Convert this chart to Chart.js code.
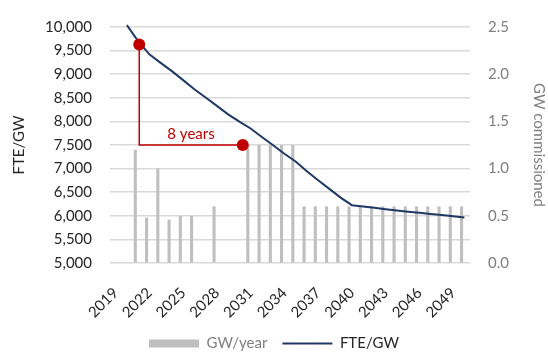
<!DOCTYPE html>
<html>
<head>
<meta charset="utf-8">
<script src="https://cdn.jsdelivr.net/npm/chart.js@4/dist/chart.umd.min.js"></script>
<style>
  html, body { margin: 0; padding: 0; background: #ffffff; }
  #wrap { width: 548px; height: 358px; }
</style>
</head>
<body>
<div id="wrap"><canvas id="c" width="548" height="358"></canvas></div>
<script>
// Years on the category axis
const years = [];
for (let y = 2019; y <= 2050; y++) years.push(String(y));

// New capacity commissioned each year (GW)
const gwPerYear = [
  null, null, 1.2, 0.48, 1.0, 0.46, 0.5, 0.5, null, 0.6, null, null,
  1.25, 1.25, 1.25, 1.25, 1.25,
  0.6, 0.6, 0.6, 0.6, 0.6, 0.6, 0.6, 0.6, 0.6, 0.6, 0.6, 0.6, 0.6, 0.6, 0.6
];

// Jobs intensity (full-time equivalents per GW)
const ftePerGw = [
  null, 10040, 9700, 9420, 9240, 9065, 8875, 8680, 8505, 8330, 8150, 7995,
  7850, 7670, 7495, 7315, 7150, 6945, 6755, 6570, 6385, 6225,
  6195, 6170, 6140, 6110, 6085, 6063, 6040, 6017, 5990, 5965
];

// "8 years" bracket: start point, corner, end point (category index, FTE/GW)
const bracketX = [2.1, 2.1, 11.3];
const bracketY = [9630, 7500, 7500];
const bracketLabel = '8 years';

// Left and right axis ranges
const leftMin = 5000, leftMax = 10000, leftStep = 500;
const rightMin = 0, rightMax = 2.5, rightStep = 0.5;

Chart.defaults.font.family = 'Lato, "Open Sans", sans-serif';
Chart.defaults.font.size = 15;
Chart.defaults.color = '#262626';

const bracketText = {
  id: 'bracketText',
  afterDatasetsDraw(chart) {
    const xs = chart.scales.xa, ys = chart.scales.y;
    const ctx = chart.ctx;
    const x = xs.getPixelForValue((bracketX[1] + bracketX[2]) / 2);
    const y = ys.getPixelForValue(bracketY[1]);
    ctx.save();
    ctx.fillStyle = '#C00000';
    ctx.font = '15px Lato, "Open Sans", sans-serif';
    ctx.textAlign = 'center';
    ctx.textBaseline = 'alphabetic';
    ctx.fillText(bracketLabel, x, y - 6);
    ctx.restore();
  }
};

new Chart(document.getElementById('c'), {
  data: {
    labels: years,
    datasets: [
      {
        type: 'bar',
        label: 'GW/year',
        data: gwPerYear,
        yAxisID: 'y1',
        xAxisID: 'x',
        backgroundColor: '#BFBFBF',
        borderWidth: 0,
        barPercentage: 0.55,
        categoryPercentage: 1.0,
        order: 2
      },
      {
        type: 'line',
        label: 'FTE/GW',
        data: ftePerGw,
        yAxisID: 'y',
        xAxisID: 'x',
        borderColor: '#1F3864',
        backgroundColor: '#1F3864',
        borderWidth: 2,
        pointRadius: 0,
        tension: 0,
        clip: false,
        order: 1
      },
      {
        type: 'line',
        label: 'bracket',
        data: bracketX.map((x, i) => ({ x: x, y: bracketY[i] })),
        yAxisID: 'y',
        xAxisID: 'xa',
        borderColor: '#C00000',
        backgroundColor: '#C00000',
        borderWidth: 1.5,
        pointRadius: [6, 0, 6],
        pointBorderWidth: 0,
        pointBackgroundColor: '#C00000',
        tension: 0,
        clip: false,
        order: 0
      }
    ]
  },
  options: {
    responsive: false,
    animation: false,
    layout: { padding: { top: 23, bottom: 0, left: 0, right: 0 } },
    scales: {
      x: {
        type: 'category',
        offset: true,
        grid: { display: false },
        border: { display: false },
        ticks: {
          autoSkip: false,
          minRotation: 45,
          maxRotation: 45,
          padding: 13,
          color: '#262626',
          callback: function (v, i) { return i % 3 === 0 ? this.getLabelForValue(v) : ''; }
        },
        afterFit(scale) { scale.height = 58; }
      },
      xa: {
        type: 'linear',
        display: false,
        min: -0.5,
        max: years.length - 0.5
      },
      y: {
        position: 'left',
        min: leftMin,
        max: leftMax,
        grid: { color: '#D9D9D9', lineWidth: 1.5, drawTicks: false },
        border: { display: false },
        ticks: {
          stepSize: leftStep,
          padding: 18,
          color: '#262626',
          callback: v => v.toLocaleString('en-US')
        },
        title: { display: true, text: 'FTE/GW', color: '#262626', font: { size: 15 }, padding: { top: 10, bottom: 0 } },
        afterFit(scale) { scale.width = 110; }
      },
      y1: {
        position: 'right',
        min: rightMin,
        max: rightMax,
        grid: { drawOnChartArea: false, drawTicks: false },
        border: { display: false },
        ticks: {
          stepSize: rightStep,
          padding: 18,
          color: '#7F7F7F',
          callback: v => v.toFixed(1)
        },
        title: { display: true, text: 'GW commissioned', color: '#7F7F7F', font: { size: 15 }, padding: { top: 0, bottom: 0 } },
        afterFit(scale) { scale.width = 78; }
      }
    },
    plugins: {
      tooltip: { enabled: false },
      legend: {
        position: 'bottom',
        maxHeight: 37,
        labels: {
          usePointStyle: true,
          pointStyleWidth: 50,
          boxHeight: 8,
          padding: 15,
          font: { size: 15 },
          filter: item => item.datasetIndex !== 2,
          sort: (a, b) => a.datasetIndex - b.datasetIndex,
          generateLabels(chart) {
            const items = Chart.defaults.plugins.legend.labels.generateLabels(chart);
            items.forEach(it => {
              if (it.datasetIndex === 0) {
                it.pointStyle = 'rect';
                it.fontColor = '#7F7F7F';
                it.lineWidth = 0;
              } else {
                it.pointStyle = 'line';
                it.fontColor = '#262626';
                it.strokeStyle = '#1F3864';
                it.lineWidth = 2;
              }
            });
            return items;
          }
        }
      }
    }
  },
  plugins: [bracketText]
});
</script>
</body>
</html>
